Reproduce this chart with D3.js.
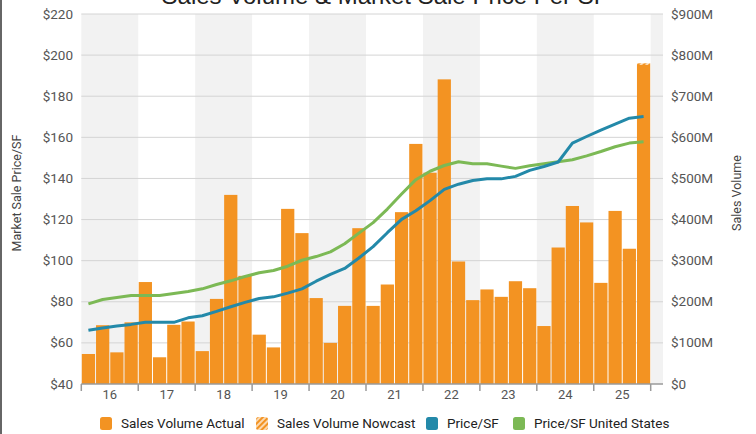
<!DOCTYPE html>
<head>
  <meta charset="utf-8">
  <script src="https://d3js.org/d3.v7.min.js"></script>
  <style>
    body { margin:0; background:white; }
    svg { display:block; font-family: Roboto, "Noto Sans", sans-serif; }
  </style>
</head>
<body>
<script>
// quarterly data, 2016 Q1 .. 2025 Q4
var years = ["16","17","18","19","20","21","22","23","24","25"];

var salesVolume = [73,143,77,150, 248,65,144,152, 80,207,460,263, 120,89,426,367,
                   209,100,190,379, 190,242,418,584, 514,741,298,204, 230,212,250,233,
                   141,332,433,393, 246,421,329,776];
var nowcast = [0,0,0,0, 0,0,0,0, 0,0,0,0, 0,0,0,0, 0,0,0,0,
               0,0,0,0, 0,0,0,0, 0,0,0,0, 0,0,0,0, 0,0,0,4];

var priceSF = [66.1,67.2,68.2,69, 70,70,70,72.2, 73.2,75.3,77.6,79.7, 81.6,82.4,84.2,86.3,
               90,93.3,96.2,101.3, 106.8,113.6,120.1,124.3, 129.2,134.7,137.2,139,
               139.8,139.8,141,143.9, 145.8,148,157.2,160.4, 163.5,166.4,169.3,170.1];
var priceUS = [79,81.1,82.1,83.1, 83.1,83.1,84,85, 86.3,88.4,90.2,92.3, 94.1,95.2,97.3,100.2,
               102,104.3,108.2,113.4, 118.5,125.1,132.4,139.4, 143.5,146.3,148.1,147.1,
               147.1,146,144.9,146.2, 147.1,148.1,149.1,151, 153.1,155.4,157.2,157.8];

var priceTicks = [40,60,80,100,120,140,160,180,200,220];
var volumeTicks = [0,100,200,300,400,500,600,700,800,900];

var width = 756, height = 434;
var plotL = 81.3, plotR = 663, plotT = 14, plotB = 384;
var barsEnd = 650.7;

var orange = "#f39322", blue = "#2389a9", green = "#7cb955";

var quarters = d3.range(salesVolume.length);

var svg = d3.select("body").append("svg")
  .attr("width", width)
  .attr("height", height);

var x = d3.scaleBand()
  .domain(quarters)
  .range([plotL, barsEnd])
  .paddingInner(0.07)
  .paddingOuter(0.035);

var yearW = (barsEnd - plotL) / years.length;

var yPrice = d3.scaleLinear().domain([40,220]).range([plotB, plotT]);
var yVol = d3.scaleLinear().domain([0,900]).range([plotB, plotT]);

// shaded year bands (even index shaded, plus the tail after the last year)
var bandG = svg.append("g");
for (var i = 0; i <= years.length; i += 2) {
  var x0 = plotL + i * yearW;
  var x1 = Math.min(x0 + yearW, plotR);
  bandG.append("rect")
    .attr("x", x0).attr("y", plotT)
    .attr("width", x1 - x0).attr("height", plotB - plotT)
    .attr("fill", "#f2f2f2");
}

// grid
svg.append("g").selectAll("line")
  .data(priceTicks.slice(1))
  .enter().append("line")
  .attr("x1", plotL).attr("x2", plotR)
  .attr("y1", function(d){ return yPrice(d); })
  .attr("y2", function(d){ return yPrice(d); })
  .attr("stroke", "#d4d4d4")
  .attr("stroke-width", 1);

// hatch pattern for nowcast
var defs = svg.append("defs");
var pat = defs.append("pattern")
  .attr("id", "hatch")
  .attr("patternUnits", "userSpaceOnUse")
  .attr("width", 4).attr("height", 4)
  .attr("patternTransform", "rotate(45)");
pat.append("rect").attr("width", 4).attr("height", 4).attr("fill", "#fbd9b0");
pat.append("rect").attr("width", 2).attr("height", 4).attr("fill", orange);

// bars
svg.append("g").selectAll("rect")
  .data(quarters)
  .enter().append("rect")
  .attr("x", function(d){ return x(d); })
  .attr("width", x.bandwidth())
  .attr("y", function(d){ return yVol(salesVolume[d]); })
  .attr("height", function(d){ return yVol(0) - yVol(salesVolume[d]); })
  .attr("fill", orange);

svg.append("g").selectAll("rect")
  .data(quarters.filter(function(d){ return nowcast[d] > 0; }))
  .enter().append("rect")
  .attr("x", function(d){ return x(d); })
  .attr("width", x.bandwidth())
  .attr("y", function(d){ return yVol(salesVolume[d] + nowcast[d]); })
  .attr("height", function(d){ return yVol(salesVolume[d]) - yVol(salesVolume[d] + nowcast[d]); })
  .attr("fill", "url(#hatch)");

// lines
var cx = function(d){ return x(d) + x.bandwidth() / 2; };

var lineSF = d3.line()
  .x(cx)
  .y(function(d){ return yPrice(priceSF[d]); });
var lineUS = d3.line()
  .x(cx)
  .y(function(d){ return yPrice(priceUS[d]); });

svg.append("path")
  .attr("d", lineUS(quarters))
  .attr("fill", "none")
  .attr("stroke", green)
  .attr("stroke-width", 3)
  .attr("stroke-linejoin", "round");

svg.append("path")
  .attr("d", lineSF(quarters))
  .attr("fill", "none")
  .attr("stroke", blue)
  .attr("stroke-width", 3)
  .attr("stroke-linejoin", "round");

// bottom axis
var xYear = d3.scaleLinear().domain([0, years.length]).range([plotL, barsEnd]);
svg.append("line")
  .attr("x1", plotL).attr("x2", plotR)
  .attr("y1", plotB).attr("y2", plotB)
  .attr("stroke", "#9a9a9a").attr("stroke-width", 1.5);

svg.append("g").selectAll("line")
  .data(d3.range(years.length + 1))
  .enter().append("line")
  .attr("x1", function(d){ return xYear(d); })
  .attr("x2", function(d){ return xYear(d); })
  .attr("y1", plotB).attr("y2", plotB + 7)
  .attr("stroke", "#9a9a9a").attr("stroke-width", 1.5);

svg.append("g").selectAll("text")
  .data(years)
  .enter().append("text")
  .attr("x", function(d, i){ return xYear(i + 0.5); })
  .attr("y", 399)
  .attr("text-anchor", "middle")
  .attr("font-size", 13)
  .attr("fill", "#555")
  .text(function(d){ return d; });

// left axis
svg.append("g").selectAll("text")
  .data(priceTicks)
  .enter().append("text")
  .attr("x", 73)
  .attr("y", function(d){ return yPrice(d) + 4.5; })
  .attr("text-anchor", "end")
  .attr("font-size", 13.5)
  .attr("fill", "#555")
  .text(function(d){ return "$" + d; });

// right axis
svg.append("g").selectAll("text")
  .data(volumeTicks)
  .enter().append("text")
  .attr("x", 671)
  .attr("y", function(d){ return yVol(d) + 4.5; })
  .attr("text-anchor", "start")
  .attr("font-size", 13.5)
  .attr("fill", "#555")
  .text(function(d){ return "$" + d + (d === 0 ? "" : "M"); });

// axis titles
svg.append("text")
  .attr("transform", "translate(21,193) rotate(-90)")
  .attr("text-anchor", "middle")
  .attr("font-size", 12.5)
  .attr("fill", "#444")
  .text("Market Sale Price/SF");

svg.append("text")
  .attr("transform", "translate(741,193) rotate(-90)")
  .attr("text-anchor", "middle")
  .attr("font-size", 12.5)
  .attr("fill", "#444")
  .text("Sales Volume");

// title (cut off at top)
svg.append("text")
  .attr("x", 385)
  .attr("y", 4)
  .attr("text-anchor", "middle")
  .attr("font-family", "'Liberation Sans', Arial, sans-serif")
  .attr("font-size", 24)
  .attr("fill", "#222")
  .text("Sales Volume & Market Sale Price Per SF");

// legend
var legendItems = [
  { label: "Sales Volume Actual", fill: orange, x: 100 },
  { label: "Sales Volume Nowcast", fill: "url(#hatch)", x: 256 },
  { label: "Price/SF", fill: blue, x: 426 },
  { label: "Price/SF United States", fill: green, x: 513 }
];
var lg = svg.append("g").selectAll("g")
  .data(legendItems)
  .enter().append("g")
  .attr("transform", function(d){ return "translate(" + d.x + ",417)"; });
lg.append("rect")
  .attr("width", 12).attr("height", 13)
  .attr("rx", 2.5)
  .attr("fill", function(d){ return d.fill; });
lg.append("text")
  .attr("x", 21)
  .attr("y", 11)
  .attr("font-size", 13.5)
  .attr("fill", "#222")
  .text(function(d){ return d.label; });

// frame edge on the left
svg.append("line")
  .attr("x1", 1).attr("x2", 1)
  .attr("y1", 0).attr("y2", height)
  .attr("stroke", "#333").attr("stroke-width", 1.5);
</script>
</body>
